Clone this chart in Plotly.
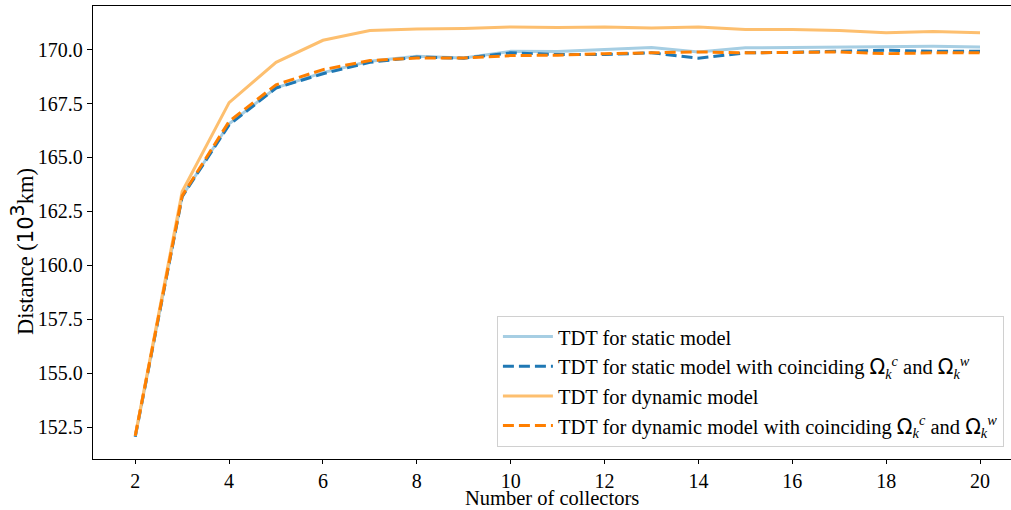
import plotly.graph_objects as go

collectors = list(range(2, 21))

tdt_static = [152.05, 163.20, 166.56, 168.23, 168.93, 169.46, 169.69, 169.61, 169.92, 169.91,
              170.00, 170.10, 169.89, 170.08, 170.10, 170.12, 170.15, 170.15, 170.12]
tdt_static_coinc = [152.05, 163.18, 166.51, 168.22, 168.88, 169.41, 169.65, 169.60, 169.85, 169.77,
                    169.77, 169.85, 169.60, 169.85, 169.87, 169.92, 169.97, 169.92, 169.92]
tdt_dynamic = [152.10, 163.42, 167.54, 169.41, 170.43, 170.88, 170.95, 170.98, 171.05, 171.02,
               171.05, 171.00, 171.05, 170.93, 170.93, 170.88, 170.78, 170.84, 170.78]
tdt_dynamic_coinc = [152.10, 163.22, 166.67, 168.37, 169.07, 169.49, 169.61, 169.61, 169.72, 169.74,
                     169.81, 169.85, 169.89, 169.85, 169.87, 169.89, 169.81, 169.85, 169.85]

y_ticks = [152.5, 155.0, 157.5, 160.0, 162.5, 165.0, 167.5, 170.0]
x_ticks = [2, 4, 6, 8, 10, 12, 14, 16, 18, 20]

om = "<span style='font-family:DejaVu Sans'>Ω</span>"
coinc = f" with coinciding {om}<sub><i>k</i></sub><sup><i>c</i></sup> and {om}<sub><i>k</i></sub><sup><i>w</i></sup>"

names = ["TDT for static model",
         "TDT for static model" + coinc,
         "TDT for dynamic model",
         "TDT for dynamic model" + coinc]

y_title = ("Distance (<span style='font-family:DejaVu Sans;font-size:21px'>10</span>"
           "<sup><span style='font-family:DejaVu Sans;font-size:19px'>3</span></sup>km)")

fig = go.Figure()
fig.add_trace(go.Scatter(x=collectors, y=tdt_static, mode="lines", name=names[0],
                         line=dict(color="#a6cee3", width=3)))
fig.add_trace(go.Scatter(x=collectors, y=tdt_static_coinc, mode="lines", name=names[1],
                         line=dict(color="#1f78b4", width=3, dash="11px,5px")))
fig.add_trace(go.Scatter(x=collectors, y=tdt_dynamic, mode="lines", name=names[2],
                         line=dict(color="#fdbf6f", width=3)))
fig.add_trace(go.Scatter(x=collectors, y=tdt_dynamic_coinc, mode="lines", name=names[3],
                         line=dict(color="#ff7f00", width=3, dash="11px,5px")))

font_family = "Liberation Serif"

fig.update_layout(
    width=1011, height=510,
    margin=dict(l=93, r=0, t=6, b=51, autoexpand=False),
    paper_bgcolor="white", plot_bgcolor="white",
    font=dict(family=font_family, size=20, color="black"),
    showlegend=True,
    legend=dict(x=0.44, xanchor="left", y=0.027, yanchor="bottom",
                bgcolor="white", bordercolor="#d0d0d0", borderwidth=1,
                font=dict(family=font_family, size=20.5, color="black"),
                tracegroupgap=0, itemwidth=50),
    xaxis=dict(range=[1.1, 20.66], tickvals=x_ticks, ticktext=[str(v) for v in x_ticks],
               showgrid=False, zeroline=False, showline=True, linecolor="black", linewidth=1.3,
               mirror=True, ticks="outside", ticklen=4, tickwidth=1, tickcolor="black",
               tickfont=dict(family=font_family, size=20),
               automargin=False),
    yaxis=dict(range=[151.02, 172.02], tickvals=y_ticks, ticktext=[f"{v:.1f}" for v in y_ticks],
               showgrid=False, zeroline=False, showline=True, linecolor="black", linewidth=1.3,
               mirror=False, ticks="outside", ticklen=5, tickwidth=1, tickcolor="black",
               tickfont=dict(family=font_family, size=20),
               automargin=False),
    annotations=[
        dict(text="Number of collectors", xref="paper", yref="paper",
             x=0.5, y=-0.113, xanchor="center", yanchor="bottom",
             showarrow=False, borderpad=0,
             font=dict(family=font_family, size=20.5, color="black")),
        dict(text=y_title, xref="paper", yref="paper", textangle=-90,
             x=-0.0773, y=0.457, xanchor="center", yanchor="middle",
             showarrow=False, borderpad=0,
             font=dict(family=font_family, size=22.5, color="black")),
    ],
)

fig.write_html("out.html", config={"displayModeBar": False},
               post_script="document.body.style.margin='0';document.body.style.overflow='hidden';")
